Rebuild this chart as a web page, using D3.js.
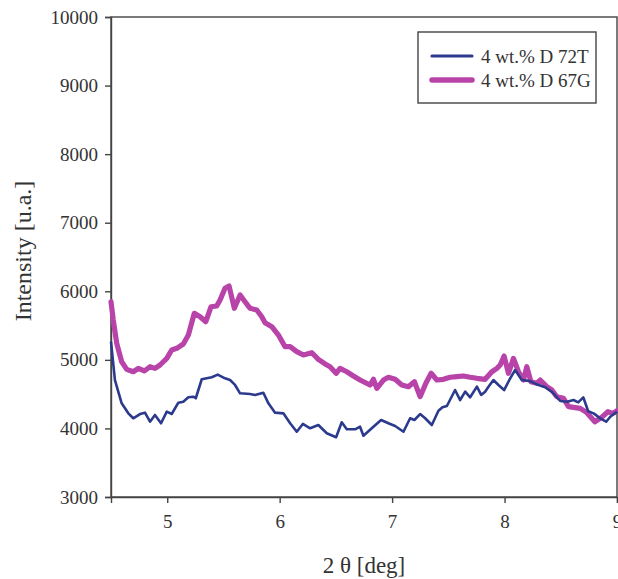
<!DOCTYPE html>
<html>
<head>
<meta charset="utf-8">
<script src="https://cdn.jsdelivr.net/npm/d3@7"></script>
<style>
  html, body { margin: 0; padding: 0; background: #fff; }
  svg { display: block; }
  text { font-family: "Liberation Serif", "Times New Roman", serif; fill: #333; }
</style>
</head>
<body>
<div id="chart"></div>
<script>
// XRD patterns: 2θ (deg) vs intensity (u.a.)
const angles72T = [4.50,4.535,4.595,4.654,4.698,4.758,4.802,4.847,4.891,4.945,4.996,5.040,5.099,5.143,5.188,5.232,5.254,5.307,5.351,5.396,5.449,5.514,5.559,5.603,5.648,5.737,5.781,5.855,5.900,5.959,6.033,6.093,6.152,6.206,6.271,6.344,6.419,6.502,6.552,6.597,6.671,6.715,6.745,6.819,6.902,6.967,7.027,7.101,7.160,7.198,7.249,7.294,7.353,7.412,7.448,7.487,7.560,7.605,7.650,7.694,7.754,7.792,7.827,7.857,7.901,7.946,7.996,8.050,8.094,8.154,8.228,8.290,8.361,8.424,8.495,8.557,8.613,8.655,8.700,8.744,8.792,8.851,8.904,8.940,9.00];
const intensity72T = [5265,4706,4366,4220,4148,4210,4230,4098,4196,4075,4244,4210,4375,4390,4454,4463,4440,4717,4731,4746,4784,4731,4706,4634,4512,4502,4488,4521,4366,4230,4220,4075,3952,4065,4002,4050,3929,3871,4089,3987,3987,4025,3894,4002,4123,4075,4035,3952,4148,4123,4210,4148,4050,4258,4308,4327,4560,4414,4536,4454,4609,4488,4536,4609,4706,4633,4560,4731,4852,4706,4690,4640,4600,4530,4400,4390,4414,4380,4454,4250,4220,4148,4098,4171,4244];

const angles67G = [4.50,4.52,4.551,4.595,4.640,4.698,4.743,4.796,4.847,4.891,4.936,4.996,5.040,5.085,5.143,5.188,5.241,5.292,5.343,5.390,5.440,5.470,5.514,5.550,5.597,5.648,5.692,5.737,5.796,5.841,5.870,5.930,5.989,6.048,6.093,6.152,6.211,6.286,6.344,6.404,6.448,6.502,6.537,6.597,6.656,6.715,6.804,6.834,6.864,6.923,6.967,7.027,7.086,7.145,7.198,7.249,7.300,7.347,7.398,7.456,7.516,7.576,7.634,7.694,7.754,7.827,7.887,7.932,7.961,7.996,8.035,8.079,8.124,8.168,8.198,8.234,8.287,8.317,8.376,8.421,8.465,8.524,8.569,8.613,8.673,8.732,8.803,8.863,8.919,8.963,9.00];
const intensity67G = [5848,5581,5241,4973,4862,4827,4876,4838,4900,4876,4925,5022,5144,5168,5231,5362,5679,5629,5557,5775,5785,5873,6044,6077,5752,5946,5848,5752,5727,5629,5542,5484,5362,5192,5192,5119,5071,5104,5008,4940,4900,4804,4876,4827,4765,4706,4633,4716,4585,4706,4746,4717,4633,4609,4682,4463,4658,4804,4706,4716,4746,4755,4765,4746,4731,4716,4827,4876,4925,5056,4804,5022,4827,4706,4900,4682,4658,4706,4609,4560,4463,4439,4317,4308,4293,4230,4098,4162,4244,4220,4258];

const xTicks = [5, 6, 7, 8, 9];
const yTicks = [3000, 4000, 5000, 6000, 7000, 8000, 9000, 10000];
const seriesNames = ["4 wt.% D 72T", "4 wt.% D 67G"];
const seriesColors = ["#2c3a8e", "#b944a9"];

const W = 618, H = 579;
const plot = { left: 111, right: 617, top: 17, bottom: 497 };

const svg = d3.select("#chart").append("svg")
  .attr("width", W).attr("height", H);

const x = d3.scaleLinear().domain([4.5, 9]).range([plot.left, plot.right]);
const y = d3.scaleLinear().domain([3000, 10000]).range([plot.bottom, plot.top]);

const axisColor = "#444";

// frame
svg.append("rect")
  .attr("x", plot.left).attr("y", plot.top)
  .attr("width", plot.right - plot.left).attr("height", plot.bottom - plot.top)
  .attr("fill", "none").attr("stroke", axisColor).attr("stroke-width", 1.4);

// axes
const xAxis = svg.append("g")
  .attr("transform", `translate(0,${plot.bottom})`)
  .call(d3.axisBottom(x).tickValues(xTicks).tickFormat(d3.format("d")).tickSize(6).tickPadding(12));
const yAxis = svg.append("g")
  .attr("transform", `translate(${plot.left},0)`)
  .call(d3.axisLeft(y).tickValues(yTicks).tickFormat(d3.format("d")).tickSize(6).tickPadding(7));

[xAxis, yAxis].forEach(g => {
  g.select(".domain").attr("stroke", axisColor).attr("stroke-width", 1.4);
  g.selectAll(".tick line").attr("stroke", axisColor).attr("stroke-width", 1.4);
  g.selectAll(".tick text")
    .attr("font-family", "'Liberation Serif', 'Times New Roman', serif")
    .attr("font-size", 19).attr("fill", "#333");
});

// series lines
const line = d3.line().x(d => x(d[0])).y(d => y(d[1]));
const data72T = angles72T.map((a, i) => [a, intensity72T[i]]);
const data67G = angles67G.map((a, i) => [a, intensity67G[i]]);

svg.append("path").datum(data67G)
  .attr("d", line).attr("fill", "none")
  .attr("stroke", seriesColors[1]).attr("stroke-width", 5.2)
  .attr("stroke-linejoin", "round").attr("stroke-linecap", "round");

svg.append("path").datum(data72T)
  .attr("d", line).attr("fill", "none")
  .attr("stroke", seriesColors[0]).attr("stroke-width", 2.6)
  .attr("stroke-linejoin", "round");

// legend
const legend = svg.append("g");
legend.append("rect")
  .attr("x", 418).attr("y", 32).attr("width", 178).attr("height", 71)
  .attr("fill", "#fff").attr("stroke", axisColor).attr("stroke-width", 1.4);
const legendWidths = [3.2, 5.5];
seriesNames.forEach((name, i) => {
  const ly = 56 + i * 24;
  legend.append("line")
    .attr("x1", 432).attr("x2", 472).attr("y1", ly).attr("y2", ly)
    .attr("stroke", seriesColors[i]).attr("stroke-width", legendWidths[i])
    .attr("stroke-linecap", "round");
  legend.append("text")
    .attr("x", 481).attr("y", ly + 7)
    .attr("font-size", 19)
    .text(name);
});

// axis titles
svg.append("text")
  .attr("x", (plot.left + plot.right) / 2).attr("y", 573)
  .attr("text-anchor", "middle").attr("font-size", 23)
  .text("2 θ [deg]");

svg.append("text")
  .attr("transform", `translate(31,251) rotate(-90)`)
  .attr("text-anchor", "middle").attr("font-size", 24)
  .text("Intensity [u.a.]");
</script>
</body>
</html>
